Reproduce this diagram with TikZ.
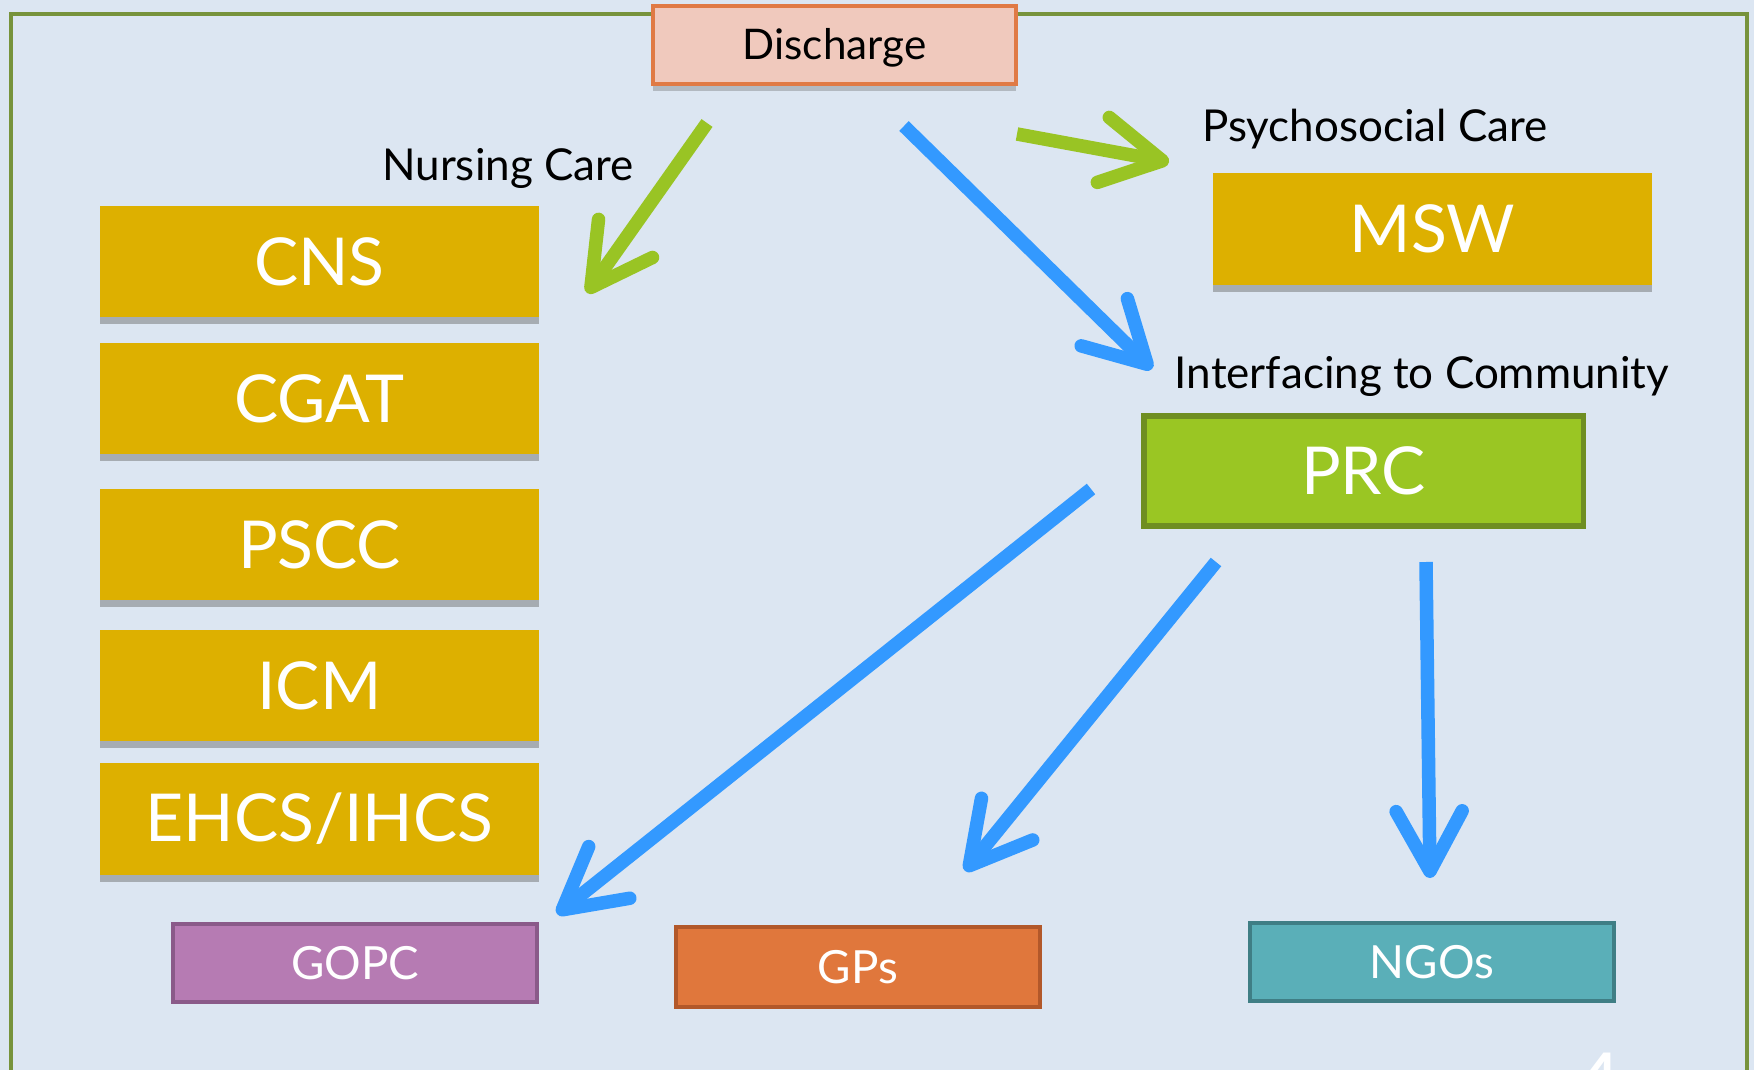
\documentclass[tikz,border=0pt]{standalone}
\usepackage{fontspec}
\setmainfont{Lato}
\usetikzlibrary{arrows.meta,shadows}

\definecolor{slidebg}{HTML}{DCE6F2}
\definecolor{slideframe}{HTML}{77933C}
\definecolor{dischfill}{HTML}{F0C9BD}
\definecolor{dischline}{HTML}{E07A45}
\definecolor{gold}{HTML}{DDB000}
\definecolor{prcfill}{HTML}{9AC623}
\definecolor{prcline}{HTML}{6F8E22}
\definecolor{flowblue}{HTML}{3399FF}
\definecolor{flowgreen}{HTML}{99C424}
\definecolor{gopcfill}{HTML}{B67BB3}
\definecolor{gopcline}{HTML}{8A5A89}
\definecolor{gpsfill}{HTML}{E0773C}
\definecolor{gpsline}{HTML}{B2582A}
\definecolor{ngofill}{HTML}{5AAFB8}
\definecolor{ngoline}{HTML}{3F7E85}

\tikzset{
  box/.style={rectangle, inner sep=0pt, text=white},
  goldbox/.style={box, fill=gold, minimum width=4.39cm, minimum height=1.11cm,
    font=\fontsize{18.8}{22}\selectfont,
    drop shadow={shadow xshift=0pt, shadow yshift=-.7mm, opacity=.45, fill=black!60}},
  endbox/.style={box, line width=1pt, minimum width=3.64cm, minimum height=.78cm,
    font=\fontsize{13}{16}\selectfont},
  caption/.style={font=\fontsize{12.5}{15}\selectfont, text=black, inner sep=0pt},
  flow/.style={line width=1.35mm, -{Straight Barb[length=6mm,width=6.6mm,round]}},
}

\begin{document}
\begin{tikzpicture}[x=0.01cm, y=-0.01cm]
  \useasboundingbox (0,0) rectangle (1754,1070);
  % slide
  \fill[slidebg] (0,0) rectangle (1754,1070);
  \draw[slideframe, line width=1.2pt] (11,14) rectangle (1747,1120);

  % top
  \node[box, fill=dischfill, draw=dischline, line width=1pt, text=black,
    minimum width=3.63cm, minimum height=.78cm, font=\fontsize{12}{15}\selectfont,
    text height=1em, text depth=.2em,
    drop shadow={shadow xshift=0pt, shadow yshift=-.7mm, opacity=.35, fill=black!60}]
    (discharge) at (834.5,45) {Discharge};

  % nursing care column
  \node[caption] (nursing) at (508,168) {Nursing Care};
  \node[goldbox] (cns) at (319.5,261.5) {CNS};
  \node[goldbox] (cgat) at (319.5,398.5) {CGAT};
  \node[goldbox] (pscc) at (319.5,544.5) {PSCC};
  \node[goldbox] (icm) at (319.5,685.5) {ICM};
  \node[goldbox] (ehcs) at (319.5,819) {EHCS/IHCS};

  % psychosocial care
  \node[caption] (psycho) at (1375,129) {Psychosocial Care};
  \node[goldbox] (msw) at (1432.5,229) {MSW};

  % community
  \node[caption] (interf) at (1422,376) {Interfacing to Community};
  \node[box, fill=prcfill, draw=prcline, line width=1.5pt, minimum width=4.39cm,
    minimum height=1.1cm, font=\fontsize{18.8}{22}\selectfont] (prc) at (1363.5,471) {PRC};

  \node[endbox, fill=gopcfill, draw=gopcline] (gopc) at (355,963) {GOPC};
  \node[endbox, fill=gpsfill, draw=gpsline, minimum height=.8cm] (gps) at (858,967) {GPs};
  \node[endbox, fill=ngofill, draw=ngoline] (ngos) at (1432,962) {NGOs};

  % arrow ends
  \coordinate (nc-a) at (707,123);   \coordinate (nc-b) at (587,293);
  \coordinate (ps-a) at (1017,134);  \coordinate (ps-b) at (1169,162);
  \coordinate (ic-a) at (904,126);   \coordinate (ic-b) at (1152,369);
  \coordinate (go-a) at (1091,489);  \coordinate (go-b) at (557,914);
  \coordinate (gp-a) at (1216,562);  \coordinate (gp-b) at (965,871);
  \coordinate (ng-a) at (1426,562);  \coordinate (ng-b) at (1430,878);

  \draw[flow, flowgreen] (nc-a) -- (nc-b);
  \draw[flow, flowgreen] (ps-a) -- (ps-b);
  \draw[flow, flowblue] (ic-a) -- (ic-b);
  \draw[flow, flowblue] (go-a) -- (go-b);
  \draw[flow, flowblue] (gp-a) -- (gp-b);
  \draw[flow, flowblue] (ng-a) -- (ng-b);

  % page number
  \node[text=white, font=\fontsize{24}{28}\selectfont, anchor=north, inner sep=0pt]
    (pagenum) at (1598,1052) {4};
\end{tikzpicture}
\end{document}
